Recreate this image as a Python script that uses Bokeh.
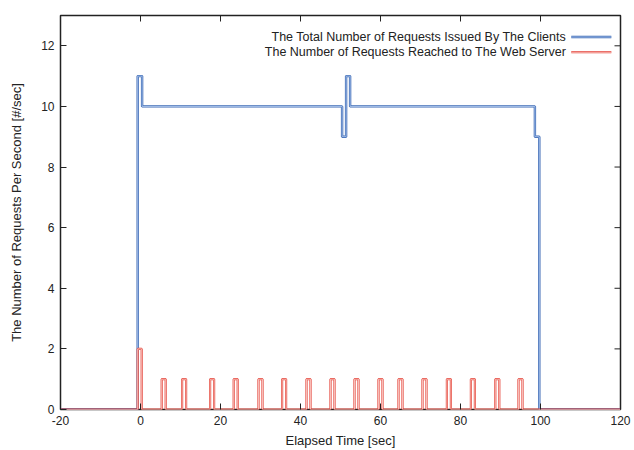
from bokeh.plotting import figure
from bokeh.models import FixedTicker, Label
from bokeh.embed import file_html
from bokeh.resources import INLINE

# ---- data ----
x_ticks = [-20, 0, 20, 40, 60, 80, 100, 120]
y_ticks = [0, 2, 4, 6, 8, 10, 12]

clients_time = [-20, -0.7, 0.4, 50.4, 51.4, 52.4, 98.6, 99.7, 120]
clients_rate = [0, 11, 10, 9, 11, 10, 9, 0, 0]

server_pulse_start = [-0.7, 5.3, 10.4, 17.4, 23.3, 29.5, 35.4, 41.5, 47.5,
                      53.5, 59.5, 64.5, 70.5, 76.6, 82.6, 88.7, 94.5]
server_pulse_rate = [2, 1, 1, 1, 1, 1, 1, 1, 1, 1, 1, 1, 1, 1, 1, 1, 1]
server_pulse_len = 1.0

label_clients = "The Total Number of Requests Issued By The Clients"
label_server = "The Number of Requests Reached to The Web Server"
x_label = "Elapsed Time [sec]"
y_label = "The Number of Requests Per Second [#/sec]"

X0, X1, Y0, Y1 = -20, 120, 0, 13

# build step series for the server
server_time = [X0]
server_rate = [0]
for s, h in zip(server_pulse_start, server_pulse_rate):
    server_time += [s, s + server_pulse_len]
    server_rate += [h, 0]
server_time.append(X1)
server_rate.append(0)

FONT = "Liberation Sans"
TXT = "#222222"

p = figure(width=634, height=450, x_range=(X0, X1), y_range=(Y0, Y1),
           output_backend="svg", toolbar_location=None,
           min_border_left=60, min_border_right=14,
           min_border_top=15, min_border_bottom=41,
           background_fill_color="white", border_fill_color="white")
p.grid.visible = False
p.outline_line_color = "#222222"
p.outline_line_width = 1.5

for ax, ticks in ((p.xaxis[0], x_ticks), (p.yaxis[0], y_ticks)):
    ax.ticker = FixedTicker(ticks=ticks)
    ax.major_label_overrides = {t: str(t) for t in ticks}
    ax.axis_line_color = None
    ax.major_tick_in = 6
    ax.major_tick_out = 0
    ax.major_tick_line_color = "#222222"
    ax.minor_tick_in = 0
    ax.minor_tick_out = 0
    ax.major_label_text_font = FONT
    ax.major_label_text_font_size = "12px"
    ax.major_label_text_color = TXT
    ax.major_label_standoff = 6
    ax.axis_label_text_font = FONT
    ax.axis_label_text_font_size = "13px"
    ax.axis_label_text_font_style = "normal"
    ax.axis_label_text_color = TXT

p.xaxis[0].axis_label = x_label
p.xaxis[0].axis_label_standoff = 5
p.yaxis[0].axis_label = y_label
p.yaxis[0].axis_label_standoff = 14

# mirror ticks on top and right edges of the frame (6 px long, inward)
px_per_x = 560 / (X1 - X0)
px_per_y = 394 / (Y1 - Y0)
tick_dx = 6 / px_per_x
tick_dy = 6 / px_per_y
p.segment(x0=x_ticks, y0=[Y1] * len(x_ticks), x1=x_ticks,
          y1=[Y1 - tick_dy] * len(x_ticks), line_color="#222222", line_width=1)
p.segment(x0=[X1] * len(y_ticks), y0=y_ticks, x1=[X1 - tick_dx] * len(y_ticks),
          y1=y_ticks, line_color="#222222", line_width=1)

BLUE_D, BLUE_L = "#3a67b3", "#a6c1ea"
RED_D, RED_L = "#e5473d", "#f9c9c4"

p.step(clients_time, clients_rate, mode="after", line_width=2.4, line_color=BLUE_D)
p.step(clients_time, clients_rate, mode="after", line_width=1.0, line_color=BLUE_L)
p.step(server_time, server_rate, mode="after", line_width=2.2, line_color=RED_D)
p.step(server_time, server_rate, mode="after", line_width=0.9, line_color=RED_L)

# legend (text right-aligned, sample line at right), placed in data space
leg_text_x = 106.4
leg_line_x0, leg_line_x1 = 107.7, 117.7
leg_rows_y = [12.29, 11.79]
for yy, txt, cd, cl in ((leg_rows_y[0], label_clients, BLUE_D, BLUE_L),
                        (leg_rows_y[1], label_server, RED_D, RED_L)):
    p.add_layout(Label(x=leg_text_x, y=yy, text=txt, text_align="right",
                       text_baseline="middle", text_font=FONT,
                       text_font_size="12.5px", text_color=TXT))
    p.line([leg_line_x0, leg_line_x1], [yy, yy], line_width=2.4, line_color=cd)
    p.line([leg_line_x0, leg_line_x1], [yy, yy], line_width=1.0, line_color=cl)

open("out.html", "w").write(file_html(p, INLINE))
